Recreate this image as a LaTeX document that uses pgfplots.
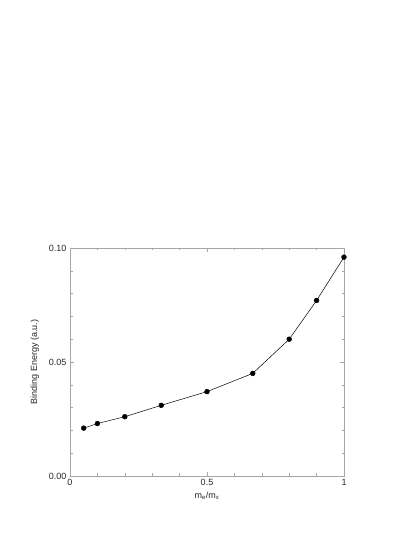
\documentclass[border=0pt]{standalone}
\usepackage{pgfplots}
\pgfplotsset{compat=1.18}
\usepackage{fontspec}
\setmainfont{Liberation Sans}
\begin{document}
\begin{tikzpicture}[x=1pt,y=1pt]
\useasboundingbox (0,0) rectangle (415,537);
\begin{axis}[
    at={(70pt,61pt)}, anchor=south west,
    width=274pt, height=228pt, scale only axis,
    xmin=0, xmax=1, ymin=0, ymax=0.1,
    xtick={0,0.5,1}, xticklabels={0,0.5,1},
    ytick={0,0.05,0.1}, yticklabels={0.00,0.05,0.10},
    minor xtick={0.1,0.2,0.3,0.4,0.6,0.7,0.8,0.9},
    minor ytick={0.01,0.02,0.03,0.04,0.06,0.07,0.08,0.09},
    tick align=inside,
    major tick length=4pt, minor tick length=2.5pt,
    axis line style={gray!70, line width=0.6pt},
    every tick/.style={gray!70, line width=0.5pt},
    tick label style={font=\fontsize{9}{11}\selectfont, text=black!85},
    label style={font=\fontsize{9}{11}\selectfont, text=black!85},
    xlabel={m\textsubscript{e}/m\textsubscript{x}},
    ylabel={Binding Energy (a.u.)},
    xlabel style={yshift=1pt},
    ylabel style={yshift=3pt},
    scaled ticks=false,
]
\addplot[black, line width=0.5pt, mark=*, mark size=2.4pt] coordinates {
    (0.05, 0.021)
    (0.1, 0.023)
    (0.2, 0.026)
    (0.333, 0.031)
    (0.5, 0.037)
    (0.667, 0.045)
    (0.8, 0.060)
    (0.9, 0.077)
    (1.0, 0.096)
};
\end{axis}
\end{tikzpicture}
\end{document}
